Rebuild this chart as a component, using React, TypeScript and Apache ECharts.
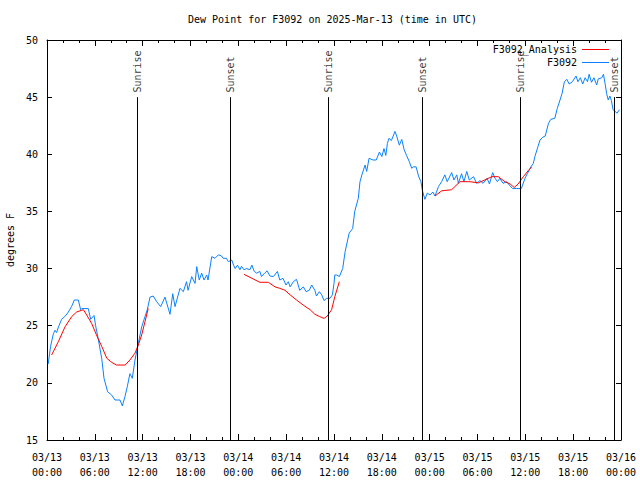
import React, { useEffect, useRef } from "react";
import * as echarts from "echarts";

// hours since 2025-03-13 00:00 UTC
const observedHours = [
  0.15, 0.45, 0.8, 1.0, 1.2, 1.5, 1.84, 2.3, 2.68, 3.1, 3.43, 3.93, 4.22, 4.35, 5.18, 5.48, 5.9, 6.1, 6.44, 6.86,
  7.15, 7.6, 8.1, 8.53, 9.16, 9.45, 9.78, 10.07, 10.4, 10.7, 11.04, 11.45, 11.88, 12.29, 12.58, 12.92, 13.33, 13.76,
  14.26, 14.8, 15.43, 15.77, 16.06, 16.68, 17.1, 17.5, 17.7, 18.15, 18.57, 18.78, 19.1, 19.4, 19.7, 20.03, 20.2,
  20.66, 21.07, 21.5, 21.9, 22.1, 22.5, 22.75, 23.17, 23.4, 23.6, 23.9, 24.2, 24.4, 24.7, 25.05, 25.46, 25.7, 26.0,
  26.3, 26.7, 26.9, 27.3, 27.6, 27.97, 28.4, 28.9, 29.2, 29.6, 29.98, 30.27, 30.5, 30.9, 31.3, 31.7, 32.15, 32.5,
  32.9, 33.2, 33.6, 33.8, 34.16, 34.46, 34.75, 35.08, 35.5, 35.8, 36.0, 36.1, 36.34, 36.67, 37.09, 37.4, 37.9,
  38.34, 38.6, 39.05, 39.26, 39.5, 39.9, 40.1, 40.4, 40.9, 41.3, 41.7, 42.0, 42.27, 42.5, 42.7, 42.9, 43.2, 43.65,
  43.86, 44.2, 44.5, 44.8, 45.1, 45.45, 45.75, 45.95, 46.3, 46.6, 46.9, 47.1, 47.4, 47.7, 48.04, 48.4, 48.67, 49.1,
  49.5, 49.9, 50.2, 50.76, 51.05, 51.4, 51.6, 52.0, 52.3, 52.65, 52.97, 53.5, 53.9, 54.3, 54.7, 55.2, 55.5, 55.9,
  56.2, 56.5, 56.8, 57.2, 57.7, 58.0, 58.4, 58.9, 59.5, 59.96, 60.25, 60.7, 61.0, 61.2, 61.6, 61.84, 62.2, 62.5,
  62.9, 63.2, 63.7, 64.0, 64.35, 64.6, 64.9, 65.2, 65.5, 65.9, 66.36, 66.6, 66.9, 67.2, 67.5, 67.8, 68.0, 68.3,
  68.6, 68.95, 69.15, 69.6, 69.8, 70.0, 70.2, 70.4, 70.6, 70.8, 71.0, 71.5, 71.8,
];
const observedValues = [
  21.65, 23.2, 24.3, 24.6, 24.4, 25.0, 25.56, 25.85, 26.2, 26.7, 27.25, 27.25, 26.4, 26.5, 26.5, 25.56, 25.9, 25.0,
  23.8, 22.15, 20.4, 19.23, 18.94, 18.5, 18.5, 17.98, 18.8, 19.66, 20.8, 20.4, 22.0, 23.46, 24.9, 25.8, 26.4, 27.5,
  27.6, 27.1, 26.67, 27.5, 26.0, 27.8, 26.67, 28.27, 27.98, 28.85, 28.1, 29.3, 28.7, 30.17, 29.0, 29.6, 29.0, 29.44,
  29.0, 31.04, 30.9, 31.2, 31.1, 30.9, 30.9, 30.6, 30.75, 30.3, 30.0, 30.3, 29.9, 30.2, 29.9, 30.0, 29.9, 30.3,
  29.75, 29.6, 29.75, 29.3, 29.6, 29.8, 29.35, 29.3, 29.75, 29.0, 29.15, 28.56, 28.85, 28.4, 28.85, 29.06, 28.1,
  28.4, 27.98, 28.1, 28.56, 28.1, 27.6, 27.98, 27.7, 27.2, 27.4, 27.4, 27.7, 28.7, 29.44, 29.44, 29.3, 30.0, 31.5,
  33.1, 33.5, 35.0, 36.15, 37.6, 38.2, 39.06, 38.5, 39.65, 39.5, 39.5, 40.2, 39.8, 40.5, 39.9, 40.96, 41.4, 41.2,
  42.0, 41.6, 40.8, 41.3, 40.4, 39.9, 39.35, 38.77, 38.9, 38.9, 38.1, 37.6, 36.8, 36.06, 36.6, 36.44, 36.7, 36.35,
  37.17, 37.6, 38.2, 37.6, 38.4, 37.75, 38.2, 37.46, 38.3, 37.6, 38.5, 37.75, 38.04, 37.46, 37.7, 37.46, 37.9,
  37.4, 38.4, 37.9, 37.6, 37.9, 37.46, 37.6, 37.3, 37.0, 37.0, 37.0, 37.9, 38.3, 38.9, 39.2, 39.8, 40.7, 41.25,
  41.5, 41.6, 42.7, 43.06, 43.15, 44.0, 44.75, 45.3, 46.35, 46.56, 46.15, 46.35, 46.85, 46.35, 46.7, 46.15, 46.7,
  46.35, 47.0, 46.3, 46.7, 46.06, 46.6, 46.7, 47.0, 46.2, 45.3, 44.75, 45.1, 44.7, 43.9, 43.6, 43.9,
];

// null marks a gap in the analysis line
const analysisHours = [
  0.58, 1.42, 2.26, 3.1, 3.72, 4.56, 4.98, 5.6, 6.2, 6.86, 7.5, 8.1, 8.7, 9.8, 10.4, 11.04, 11.45, 11.88, 12.29, 12.7,
  18.0,
  24.7, 25.7, 26.7, 27.76, 28.6, 29.2, 29.85, 30.5, 31.3, 32.15, 33.0, 33.6, 34.2, 34.75, 35.16, 35.7, 36.1, 36.67,
  42.0,
  48.67, 49.5, 50.76, 51.8, 53.06, 54.1, 54.9, 55.8, 56.6, 57.45, 58.1, 58.6, 59.1, 59.75, 60.4, 60.8,
];
const analysisValues = [
  22.44, 23.6, 24.9, 25.8, 26.2, 26.4, 25.94, 25.2, 24.2, 23.2, 22.15, 21.8, 21.56, 21.56, 22.0, 22.6, 23.3, 24.2,
  25.35, 26.5,
  null,
  29.5, 29.15, 28.8, 28.8, 28.4, 28.27, 28.1, 27.7, 27.25, 26.8, 26.4, 26.0, 25.8, 25.64, 25.85, 26.4, 27.54, 28.85,
  null,
  36.35, 36.8, 36.9, 37.6, 37.6, 37.5, 37.75, 38.04, 38.04, 37.6, 37.4, 37.1, 37.4, 38.04, 38.6, 38.9,
];

const sunEvents = ["Sunrise", "Sunset", "Sunrise", "Sunset", "Sunrise", "Sunset"];
const sunHours = [11.33, 22.96, 35.29, 47.1, 59.42, 71.17];

const yTicks = [15, 20, 25, 30, 35, 40, 45, 50];

const FONT = "DejaVu Sans Mono";

function fmtHour(h: number): string {
  const day = 13 + Math.floor(h / 24 + 1e-9);
  const hh = Math.round(h - (day - 13) * 24);
  return `03/${String(day).padStart(2, "0")}\n${String(hh).padStart(2, "0")}:00`;
}

export default function App() {
  const ref = useRef<HTMLDivElement>(null);
  useEffect(() => {
    if (!ref.current) return;
    const chart = echarts.init(ref.current, null, { renderer: "svg" });
    const txt = { fontFamily: FONT, fontSize: 10, color: "#000" };
    const xCommon = {
      type: "value" as const,
      min: 0,
      max: 72,
      interval: 6,
      splitLine: { show: false },
      axisLine: { show: true, onZero: false, lineStyle: { color: "#000", width: 1 } },
      axisTick: { show: true, inside: true, length: 6, lineStyle: { color: "#000" } },
      minorTick: { show: true, splitNumber: 3, length: 3, lineStyle: { color: "#000" } },
    };
    const yCommon = {
      type: "value" as const,
      min: yTicks[0],
      max: yTicks[yTicks.length - 1],
      interval: 5,
      splitLine: { show: false },
      axisLine: { show: true, onZero: false, lineStyle: { color: "#000", width: 1 } },
      axisTick: { show: true, inside: true, length: 5, lineStyle: { color: "#000" } },
    };
    chart.setOption({
      animation: false,
      backgroundColor: "#fff",
      title: {
        text: "Dew Point for F3092 on 2025-Mar-13 (time in UTC)",
        left: 188,
        top: 14,
        padding: 0,
        textStyle: { ...txt, fontWeight: "normal" },
      },
      legend: {
        data: ["F3092_Analysis", "F3092"],
        orient: "vertical",
        align: "right",
        right: 31,
        top: 43,
        padding: 0,
        itemGap: 0,
        icon: "rect",
        itemWidth: 27,
        itemHeight: 1,
        textStyle: { ...txt, lineHeight: 13 },
      },
      grid: { left: 47, right: 19, top: 40, bottom: 40, containLabel: false, outerBoundsMode: "none" },
      xAxis: [
        {
          ...xCommon,
          position: "bottom",
          axisLabel: {
            ...txt,
            margin: 10,
            lineHeight: 15,
            formatter: (v: number) => fmtHour(v),
          },
        },
        { ...xCommon, position: "top", axisLabel: { show: false } },
      ],
      yAxis: [
        {
          ...yCommon,
          position: "left",
          name: "degrees F",
          nameLocation: "middle",
          nameGap: 31,
          nameTextStyle: txt,
          axisLabel: { ...txt, margin: 9 },
        },
        { ...yCommon, position: "right", axisLabel: { show: false } },
      ],
      series: [
        {
          name: "F3092_Analysis",
          type: "line",
          symbol: "none",
          connectNulls: false,
          color: "#ff0000",
          lineStyle: { color: "#ff0000", width: 1 },
          data: analysisHours.map((h, i) => (analysisValues[i] === null ? [h, "-"] : [h, analysisValues[i]])),
          z: 3,
        },
        {
          name: "F3092",
          type: "line",
          symbol: "none",
          color: "#0a80ff",
          lineStyle: { color: "#0a80ff", width: 1 },
          data: observedHours.map((h, i) => [h, observedValues[i]]),
          z: 2,
          markLine: {
            silent: true,
            symbol: ["none", "none"],
            label: { show: false },
            lineStyle: { color: "#000", width: 1, type: "solid" },
            data: sunHours.map((h) => [{ coord: [h, 15] }, { coord: [h, 45] }]),
          },
        },
        {
          name: "sun",
          type: "scatter",
          symbolSize: 1,
          itemStyle: { color: "rgba(0,0,0,0)" },
          silent: true,
          data: sunHours.map((h, i) => ({ value: [h, 45.4], name: sunEvents[i] })),
          label: {
            show: true,
            position: "inside",
            rotate: 90,
            align: "left",
            verticalAlign: "middle",
            formatter: "{b}",
            ...txt,
          },
        },
      ],
    });
    return () => chart.dispose();
  }, []);
  return (
    <div
      ref={ref}
      style={{ position: "fixed", left: 0, top: 0, width: 640, height: 480, background: "#fff" }}
    />
  );
}
